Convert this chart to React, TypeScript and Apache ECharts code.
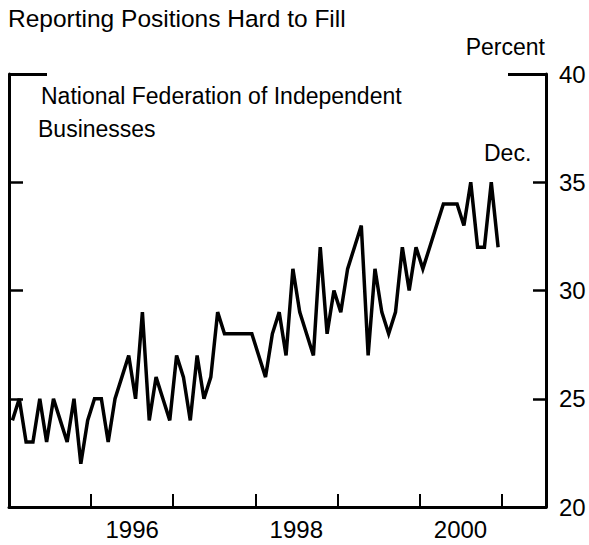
import React, { useEffect, useRef } from "react";
import * as echarts from "echarts";

// Monthly, Jan 1995 - Dec 2000 (percent of firms reporting positions hard to fill)
const startYear = 1995;
const values: number[] = [
  24, 25, 23, 23, 25, 23, 25, 24, 23, 25, 22, 24,
  25, 25, 23, 25, 26, 27, 25, 29, 24, 26, 25, 24,
  27, 26, 24, 27, 25, 26, 29, 28, 28, 28, 28, 28,
  27, 26, 28, 29, 27, 31, 29, 28, 27, 32, 28, 30,
  29, 31, 32, 33, 27, 31, 29, 28, 29, 32, 30, 32,
  31, 32, 33, 34, 34, 34, 33, 35, 32, 32, 35, 32,
];
const yearTicks: number[] = [1996, 1997, 1998, 1999, 2000, 2001];
const yearLabels: number[] = [1996, 1998, 2000];
const yTicks: number[] = [25, 30, 35];
const yLabels: number[] = [20, 25, 30, 35, 40];
const yMin = 20;
const yMax = 40;
const xMaxMonths = 78.5;

const FONT = "'Liberation Sans', Arial, Helvetica, sans-serif";

export default function App() {
  const ref = useRef<HTMLDivElement>(null);
  useEffect(() => {
    if (!ref.current) return;
    const chart = echarts.init(ref.current, undefined, { renderer: "svg" });
    const data = values.map((v, i) => [i + 0.5, v]);
    const monthOf = (y: number) => (y - startYear) * 12;
    const axisColor = "#000";
    const tickText = { color: "#000", fontFamily: FONT, fontSize: 24 };
    chart.setOption({
      animation: false,
      backgroundColor: "#fff",
      grid: { left: 9, right: 43, top: 74, bottom: 38, containLabel: false },
      xAxis: {
        type: "value",
        min: 0,
        max: xMaxMonths,
        axisLine: { show: true, lineStyle: { color: axisColor, width: 3 } },
        axisTick: {
          show: true,
          inside: true,
          length: 13,
          customValues: yearTicks.map(monthOf),
          lineStyle: { color: axisColor, width: 2 },
        },
        axisLabel: {
          show: true,
          customValues: yearLabels.map((y) => monthOf(y) + 6),
          formatter: (v: number) => String(startYear + Math.floor(v / 12)),
          margin: 10,
          ...tickText,
        },
        splitLine: { show: false },
      },
      yAxis: [
        {
          type: "value",
          position: "left",
          min: yMin,
          max: yMax,
          interval: 5,
          axisLine: { show: true, lineStyle: { color: axisColor, width: 3 } },
          axisTick: { show: true, inside: true, length: 14, customValues: yTicks, lineStyle: { color: axisColor, width: 2.5 } },
          axisLabel: { show: false },
          splitLine: { show: false },
        },
        {
          type: "value",
          position: "right",
          min: yMin,
          max: yMax,
          interval: 5,
          axisLine: { show: true, lineStyle: { color: axisColor, width: 3 } },
          axisTick: { show: true, inside: true, length: 13, customValues: yTicks, lineStyle: { color: axisColor, width: 2.5 } },
          axisLabel: { show: true, customValues: yLabels, margin: 13, ...tickText },
          splitLine: { show: false },
        },
        {
          type: "value",
          position: "left",
          min: yMin,
          max: yMax,
          axisLine: { show: false },
          axisTick: { show: true, inside: true, length: 38, customValues: [yMax], lineStyle: { color: axisColor, width: 3 } },
          axisLabel: { show: false },
          splitLine: { show: false },
        },
        {
          type: "value",
          position: "right",
          min: yMin,
          max: yMax,
          axisLine: { show: false },
          axisTick: { show: true, inside: true, length: 38, customValues: [yMax], lineStyle: { color: axisColor, width: 3 } },
          axisLabel: { show: false },
          splitLine: { show: false },
        },
      ],
      series: [
        {
          type: "line",
          data,
          yAxisIndex: 0,
          symbol: "none",
          lineStyle: { color: "#000", width: 3.5, join: "miter" },
          itemStyle: { color: "#000" },
        },
      ],
      graphic: [
        { type: "text", left: 8, top: 6, style: { text: "Reporting Positions Hard to Fill", fill: "#000", font: `24.5px ${FONT}` } },
        { type: "text", right: 44, top: 35, style: { text: "Percent", fill: "#000", font: `23px ${FONT}` } },
        { type: "text", left: 41, top: 84, style: { text: "National Federation of Independent", fill: "#000", font: `23px ${FONT}` } },
        { type: "text", left: 38, top: 117, style: { text: "Businesses", fill: "#000", font: `23px ${FONT}` } },
        { type: "text", left: 484, top: 141, style: { text: "Dec.", fill: "#000", font: `23px ${FONT}` } },
      ],
    });
    return () => chart.dispose();
  }, []);
  return (
    <div
      ref={ref}
      style={{ position: "fixed", left: 0, top: 0, width: 589, height: 545, background: "#fff" }}
    />
  );
}
